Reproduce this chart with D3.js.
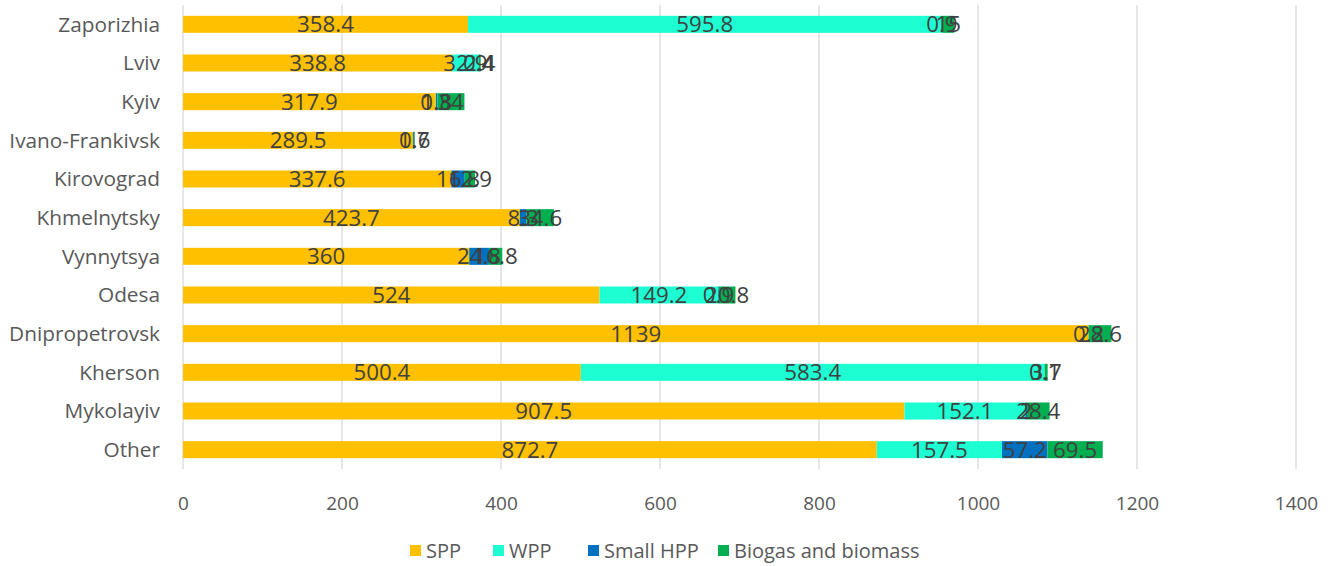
<!DOCTYPE html>
<html><head><meta charset="utf-8">
<script src="https://cdn.jsdelivr.net/npm/d3@7"></script>
<style>body{margin:0;background:#fff;} text{font-family:"Open Sans", sans-serif;}</style>
</head><body><svg id="c" width="1333" height="566"></svg>
<script>
const categories = ["Zaporizhia","Lviv","Kyiv","Ivano-Frankivsk","Kirovograd","Khmelnytsky","Vynnytsya","Odesa","Dnipropetrovsk","Kherson","Mykolayiv","Other"];
const spp = [358.4,338.8,317.9,289.5,337.6,423.7,360,524,1139,500.4,907.5,872.7];
const wpp = [595.8,32.9,0.3,0,0,0,0,149.2,0,583.4,152.1,157.5];
const hpp = [0.9,0.4,1.8,1.7,16.8,8.3,24.8,0.9,0.2,0.1,2,57.2];
const bio = [15,2.4,34,0.6,12.9,34.6,16.8,20.8,28.6,3.7,28.4,69.5];
const seriesNames = ["SPP","WPP","Small HPP","Biogas and biomass"];
const colors = ["#FFC000","#1DFFD2","#0070C0","#00B050"];
const xTicks = [0,200,400,600,800,1000,1200,1400];

const svg = d3.select("#c");
const m = {l:183, r:1333-1296, t:5, b:566-469};
const W = 1333, H = 566;
const x = d3.scaleLinear().domain([0,1400]).range([m.l, W-m.r]);
const y = d3.scaleBand().domain(categories).range([m.t, H-m.b]).paddingInner(0.56).paddingOuter(0.28);

svg.append("g").selectAll("line").data(xTicks).join("line")
  .attr("x1",d=>x(d)).attr("x2",d=>x(d)).attr("y1",m.t).attr("y2",H-m.b)
  .attr("stroke","#D9D9D9").attr("stroke-width",1.3);

const rows = categories.map((c,i)=>({c, vals:[spp[i],wpp[i],hpp[i],bio[i]]}));
const segs = [];
rows.forEach(r=>{let s=0; r.vals.forEach((v,k)=>{segs.push({c:r.c,k,v,x0:s,x1:s+v}); s+=v;});});

svg.append("g").selectAll("rect").data(segs.filter(d=>d.v>0)).join("rect")
  .attr("x",d=>x(d.x0)).attr("width",d=>x(d.x1)-x(d.x0))
  .attr("y",d=>y(d.c)).attr("height",y.bandwidth())
  .attr("fill",d=>colors[d.k]);

svg.append("g").selectAll("text").data(segs.filter(d=>d.v>0)).join("text")
  .attr("x",d=>(x(d.x0)+x(d.x1))/2).attr("y",d=>y(d.c)+y.bandwidth()/2)
  .attr("dy","0.36em").attr("text-anchor","middle")
  .attr("font-size",22.3).attr("fill","#404040").text(d=>d.v);

svg.append("g").selectAll("text").data(categories).join("text")
  .attr("x",m.l-23).attr("y",d=>y(d)+y.bandwidth()/2).attr("dy","0.36em")
  .attr("text-anchor","end").attr("font-size",20.8).attr("fill","#595959").text(d=>d);

const xa = svg.append("g").attr("transform",`translate(0,${H-m.b+27})`)
  .call(d3.axisBottom(x).tickValues(xTicks).tickFormat(d3.format("d")).tickSize(0).tickPadding(0));
xa.select(".domain").remove();
xa.selectAll("text").attr("font-size",19).attr("fill","#595959").attr("font-family","'Open Sans', sans-serif");

const lx = [410,493,588,718];
const lg = svg.append("g").selectAll("g").data(seriesNames).join("g")
  .attr("transform",(d,i)=>`translate(${lx[i]},551)`);
lg.append("rect").attr("x",0).attr("y",-6).attr("width",11).attr("height",11).attr("fill",(d,i)=>colors[i]);
lg.append("text").attr("x",16).attr("dy","0.36em").attr("font-size",20).attr("fill","#595959").text(d=>d);
</script></body></html>
